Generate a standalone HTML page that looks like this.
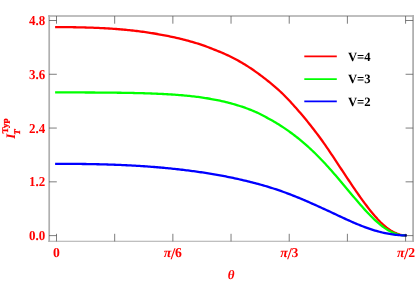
<!DOCTYPE html>
<html><head><meta charset="utf-8"><title>chart</title>
<style>
html,body{margin:0;padding:0;background:#fff;}
svg{display:block;}
text{font-family:"Liberation Serif",serif;font-weight:bold;text-rendering:geometricPrecision;}
svg{will-change:transform;opacity:0.999;}
</style></head><body>
<svg width="417" height="281" viewBox="0 0 417 281">
<rect x="0" y="0" width="417" height="281" fill="#fff"/>
<path d="M55.10,27.10 L56.30,27.10 L57.76,27.10 L59.22,27.11 L60.69,27.11 L62.15,27.12 L63.61,27.13 L65.07,27.14 L66.53,27.15 L68.00,27.16 L69.46,27.18 L70.92,27.19 L72.38,27.21 L73.84,27.24 L75.31,27.26 L76.77,27.29 L78.23,27.31 L79.69,27.34 L81.15,27.38 L82.61,27.41 L84.08,27.45 L85.54,27.49 L87.00,27.53 L88.46,27.57 L89.92,27.62 L91.39,27.67 L92.85,27.72 L94.31,27.78 L95.77,27.84 L97.23,27.90 L98.70,27.96 L100.16,28.03 L101.62,28.10 L103.08,28.18 L104.54,28.25 L106.01,28.34 L107.47,28.42 L108.93,28.51 L110.39,28.60 L111.85,28.70 L113.32,28.80 L114.78,28.90 L116.24,29.01 L117.70,29.12 L119.16,29.23 L120.62,29.35 L122.09,29.48 L123.55,29.61 L125.01,29.74 L126.47,29.88 L127.93,30.02 L129.40,30.17 L130.86,30.33 L132.32,30.49 L133.78,30.65 L135.24,30.82 L136.71,30.99 L138.17,31.17 L139.63,31.36 L141.09,31.55 L142.55,31.74 L144.02,31.94 L145.48,32.15 L146.94,32.36 L148.40,32.58 L149.86,32.80 L151.33,33.03 L152.79,33.26 L154.25,33.50 L155.71,33.75 L157.17,34.00 L158.63,34.26 L160.10,34.52 L161.56,34.79 L163.02,35.06 L164.48,35.34 L165.94,35.63 L167.41,35.92 L168.87,36.22 L170.33,36.52 L171.79,36.83 L173.25,37.15 L174.72,37.48 L176.18,37.81 L177.64,38.15 L179.10,38.49 L180.56,38.84 L182.03,39.20 L183.49,39.57 L184.95,39.95 L186.41,40.33 L187.87,40.72 L189.34,41.12 L190.80,41.53 L192.26,41.94 L193.72,42.37 L195.18,42.80 L196.64,43.25 L198.11,43.70 L199.57,44.16 L201.03,44.63 L202.49,45.13 L203.95,45.64 L205.42,46.17 L206.88,46.72 L208.34,47.28 L209.80,47.84 L211.26,48.41 L212.73,48.99 L214.19,49.57 L215.65,50.14 L217.11,50.73 L218.57,51.32 L220.04,51.92 L221.50,52.54 L222.96,53.17 L224.42,53.81 L225.88,54.46 L227.35,55.13 L228.81,55.82 L230.27,56.52 L231.73,57.24 L233.19,57.98 L234.65,58.74 L236.12,59.51 L237.58,60.31 L239.04,61.12 L240.50,61.95 L241.96,62.79 L243.43,63.66 L244.89,64.55 L246.35,65.46 L247.81,66.39 L249.27,67.34 L250.74,68.31 L252.20,69.30 L253.66,70.30 L255.12,71.32 L256.58,72.35 L258.05,73.40 L259.51,74.46 L260.97,75.55 L262.43,76.66 L263.89,77.79 L265.36,78.93 L266.82,80.10 L268.28,81.26 L269.74,82.43 L271.20,83.61 L272.66,84.82 L274.13,86.07 L275.59,87.33 L277.05,88.61 L278.51,89.92 L279.97,91.25 L281.44,92.62 L282.90,94.03 L284.36,95.48 L285.82,96.97 L287.28,98.48 L288.75,100.02 L290.21,101.59 L291.67,103.18 L293.13,104.80 L294.59,106.43 L296.06,108.08 L297.52,109.75 L298.98,111.43 L300.44,113.12 L301.90,114.83 L303.37,116.56 L304.83,118.31 L306.29,120.09 L307.75,121.89 L309.21,123.71 L310.67,125.56 L312.14,127.43 L313.60,129.31 L315.06,131.20 L316.52,133.11 L317.98,135.04 L319.45,136.99 L320.91,138.98 L322.37,141.00 L323.83,143.06 L325.29,145.16 L326.76,147.29 L328.22,149.44 L329.68,151.60 L331.14,153.79 L332.60,155.98 L334.07,158.19 L335.53,160.40 L336.99,162.61 L338.45,164.83 L339.91,167.04 L341.38,169.25 L342.84,171.46 L344.30,173.67 L345.76,175.87 L347.22,178.07 L348.68,180.26 L350.15,182.44 L351.61,184.61 L353.07,186.77 L354.53,188.91 L355.99,191.04 L357.46,193.15 L358.92,195.24 L360.38,197.30 L361.84,199.34 L363.30,201.35 L364.77,203.33 L366.23,205.28 L367.69,207.19 L369.15,209.08 L370.61,210.93 L372.08,212.73 L373.54,214.49 L375.00,216.20 L376.46,217.86 L377.92,219.46 L379.39,221.00 L380.85,222.47 L382.31,223.87 L383.77,225.20 L385.23,226.45 L386.69,227.62 L388.16,228.70 L389.62,229.70 L391.08,230.62 L392.54,231.47 L394.00,232.23 L395.47,232.92 L396.93,233.54 L398.39,234.08 L399.85,234.53 L401.31,234.90 L402.78,235.17 L404.24,235.34 L405.70,235.40 L406.50,235.40" fill="none" stroke="#ff0000" stroke-width="2.3" stroke-linecap="butt" stroke-linejoin="round"/>
<path d="M55.10,92.42 L56.30,92.42 L57.76,92.42 L59.22,92.42 L60.69,92.42 L62.15,92.42 L63.61,92.42 L65.07,92.42 L66.53,92.43 L68.00,92.43 L69.46,92.43 L70.92,92.43 L72.38,92.44 L73.84,92.44 L75.31,92.44 L76.77,92.45 L78.23,92.45 L79.69,92.45 L81.15,92.46 L82.61,92.46 L84.08,92.47 L85.54,92.48 L87.00,92.48 L88.46,92.49 L89.92,92.49 L91.39,92.50 L92.85,92.51 L94.31,92.52 L95.77,92.53 L97.23,92.54 L98.70,92.55 L100.16,92.56 L101.62,92.57 L103.08,92.58 L104.54,92.59 L106.01,92.60 L107.47,92.62 L108.93,92.63 L110.39,92.64 L111.85,92.66 L113.32,92.67 L114.78,92.69 L116.24,92.71 L117.70,92.73 L119.16,92.75 L120.62,92.77 L122.09,92.79 L123.55,92.81 L125.01,92.83 L126.47,92.86 L127.93,92.89 L129.40,92.91 L130.86,92.94 L132.32,92.97 L133.78,93.00 L135.24,93.03 L136.71,93.07 L138.17,93.10 L139.63,93.14 L141.09,93.18 L142.55,93.22 L144.02,93.26 L145.48,93.30 L146.94,93.35 L148.40,93.40 L149.86,93.45 L151.33,93.50 L152.79,93.55 L154.25,93.61 L155.71,93.67 L157.17,93.73 L158.63,93.79 L160.10,93.86 L161.56,93.93 L163.02,94.00 L164.48,94.08 L165.94,94.16 L167.41,94.24 L168.87,94.33 L170.33,94.42 L171.79,94.51 L173.25,94.61 L174.72,94.71 L176.18,94.81 L177.64,94.92 L179.10,95.03 L180.56,95.15 L182.03,95.27 L183.49,95.40 L184.95,95.53 L186.41,95.67 L187.87,95.81 L189.34,95.96 L190.80,96.11 L192.26,96.27 L193.72,96.44 L195.18,96.61 L196.64,96.79 L198.11,96.98 L199.57,97.18 L201.03,97.38 L202.49,97.59 L203.95,97.80 L205.42,98.03 L206.88,98.26 L208.34,98.50 L209.80,98.75 L211.26,99.01 L212.73,99.27 L214.19,99.55 L215.65,99.83 L217.11,100.12 L218.57,100.42 L220.04,100.74 L221.50,101.06 L222.96,101.39 L224.42,101.73 L225.88,102.08 L227.35,102.44 L228.81,102.81 L230.27,103.19 L231.73,103.59 L233.19,104.00 L234.65,104.42 L236.12,104.85 L237.58,105.29 L239.04,105.75 L240.50,106.22 L241.96,106.70 L243.43,107.20 L244.89,107.71 L246.35,108.24 L247.81,108.78 L249.27,109.34 L250.74,109.91 L252.20,110.50 L253.66,111.11 L255.12,111.73 L256.58,112.38 L258.05,113.06 L259.51,113.77 L260.97,114.50 L262.43,115.26 L263.89,116.04 L265.36,116.82 L266.82,117.62 L268.28,118.42 L269.74,119.23 L271.20,120.04 L272.66,120.86 L274.13,121.71 L275.59,122.57 L277.05,123.45 L278.51,124.34 L279.97,125.26 L281.44,126.20 L282.90,127.16 L284.36,128.13 L285.82,129.12 L287.28,130.13 L288.75,131.15 L290.21,132.20 L291.67,133.27 L293.13,134.36 L294.59,135.47 L296.06,136.60 L297.52,137.75 L298.98,138.93 L300.44,140.13 L301.90,141.35 L303.37,142.59 L304.83,143.85 L306.29,145.13 L307.75,146.44 L309.21,147.76 L310.67,149.11 L312.14,150.48 L313.60,151.88 L315.06,153.30 L316.52,154.74 L317.98,156.21 L319.45,157.69 L320.91,159.20 L322.37,160.72 L323.83,162.27 L325.29,163.83 L326.76,165.42 L328.22,167.03 L329.68,168.66 L331.14,170.31 L332.60,171.97 L334.07,173.65 L335.53,175.34 L336.99,177.04 L338.45,178.75 L339.91,180.47 L341.38,182.20 L342.84,183.94 L344.30,185.68 L345.76,187.42 L347.22,189.17 L348.68,190.92 L350.15,192.67 L351.61,194.41 L353.07,196.15 L354.53,197.88 L355.99,199.60 L357.46,201.31 L358.92,203.01 L360.38,204.69 L361.84,206.36 L363.30,208.00 L364.77,209.62 L366.23,211.21 L367.69,212.78 L369.15,214.31 L370.61,215.81 L372.08,217.28 L373.54,218.70 L375.00,220.08 L376.46,221.42 L377.92,222.71 L379.39,223.95 L380.85,225.14 L382.31,226.27 L383.77,227.35 L385.23,228.37 L386.69,229.32 L388.16,230.21 L389.62,231.04 L391.08,231.79 L392.54,232.48 L394.00,233.10 L395.47,233.64 L396.93,234.11 L398.39,234.51 L399.85,234.84 L401.31,235.09 L402.78,235.26 L404.24,235.37 L405.70,235.40 L406.50,235.40" fill="none" stroke="#00ff00" stroke-width="2.3" stroke-linecap="butt" stroke-linejoin="round"/>
<path d="M55.10,163.82 L56.30,163.82 L57.76,163.82 L59.22,163.82 L60.69,163.83 L62.15,163.83 L63.61,163.83 L65.07,163.84 L66.53,163.85 L68.00,163.85 L69.46,163.86 L70.92,163.87 L72.38,163.88 L73.84,163.89 L75.31,163.90 L76.77,163.91 L78.23,163.93 L79.69,163.94 L81.15,163.96 L82.61,163.98 L84.08,164.00 L85.54,164.02 L87.00,164.04 L88.46,164.06 L89.92,164.09 L91.39,164.11 L92.85,164.14 L94.31,164.17 L95.77,164.20 L97.23,164.23 L98.70,164.27 L100.16,164.30 L101.62,164.34 L103.08,164.38 L104.54,164.42 L106.01,164.46 L107.47,164.50 L108.93,164.55 L110.39,164.59 L111.85,164.64 L113.32,164.69 L114.78,164.74 L116.24,164.80 L117.70,164.85 L119.16,164.91 L120.62,164.97 L122.09,165.04 L123.55,165.10 L125.01,165.17 L126.47,165.24 L127.93,165.31 L129.40,165.38 L130.86,165.46 L132.32,165.53 L133.78,165.62 L135.24,165.70 L136.71,165.78 L138.17,165.87 L139.63,165.96 L141.09,166.06 L142.55,166.15 L144.02,166.25 L145.48,166.35 L146.94,166.45 L148.40,166.56 L149.86,166.67 L151.33,166.78 L152.79,166.90 L154.25,167.01 L155.71,167.13 L157.17,167.26 L158.63,167.38 L160.10,167.51 L161.56,167.64 L163.02,167.77 L164.48,167.91 L165.94,168.05 L167.41,168.19 L168.87,168.33 L170.33,168.48 L171.79,168.63 L173.25,168.78 L174.72,168.94 L176.18,169.10 L177.64,169.26 L179.10,169.42 L180.56,169.59 L182.03,169.76 L183.49,169.93 L184.95,170.11 L186.41,170.29 L187.87,170.47 L189.34,170.66 L190.80,170.84 L192.26,171.03 L193.72,171.23 L195.18,171.43 L196.64,171.63 L198.11,171.83 L199.57,172.04 L201.03,172.25 L202.49,172.46 L203.95,172.68 L205.42,172.90 L206.88,173.13 L208.34,173.36 L209.80,173.60 L211.26,173.84 L212.73,174.09 L214.19,174.34 L215.65,174.59 L217.11,174.85 L218.57,175.11 L220.04,175.38 L221.50,175.65 L222.96,175.92 L224.42,176.20 L225.88,176.49 L227.35,176.78 L228.81,177.07 L230.27,177.37 L231.73,177.67 L233.19,177.98 L234.65,178.29 L236.12,178.61 L237.58,178.93 L239.04,179.25 L240.50,179.58 L241.96,179.92 L243.43,180.26 L244.89,180.61 L246.35,180.96 L247.81,181.31 L249.27,181.68 L250.74,182.04 L252.20,182.41 L253.66,182.79 L255.12,183.17 L256.58,183.56 L258.05,183.96 L259.51,184.36 L260.97,184.76 L262.43,185.17 L263.89,185.59 L265.36,186.02 L266.82,186.45 L268.28,186.89 L269.74,187.34 L271.20,187.80 L272.66,188.26 L274.13,188.73 L275.59,189.21 L277.05,189.70 L278.51,190.19 L279.97,190.69 L281.44,191.20 L282.90,191.72 L284.36,192.25 L285.82,192.78 L287.28,193.32 L288.75,193.87 L290.21,194.43 L291.67,194.99 L293.13,195.56 L294.59,196.14 L296.06,196.73 L297.52,197.32 L298.98,197.92 L300.44,198.53 L301.90,199.15 L303.37,199.77 L304.83,200.39 L306.29,201.03 L307.75,201.66 L309.21,202.31 L310.67,202.95 L312.14,203.60 L313.60,204.26 L315.06,204.91 L316.52,205.57 L317.98,206.22 L319.45,206.88 L320.91,207.54 L322.37,208.20 L323.83,208.87 L325.29,209.54 L326.76,210.21 L328.22,210.88 L329.68,211.56 L331.14,212.24 L332.60,212.93 L334.07,213.62 L335.53,214.31 L336.99,215.00 L338.45,215.69 L339.91,216.38 L341.38,217.07 L342.84,217.75 L344.30,218.42 L345.76,219.09 L347.22,219.76 L348.68,220.42 L350.15,221.07 L351.61,221.71 L353.07,222.35 L354.53,222.98 L355.99,223.59 L357.46,224.20 L358.92,224.80 L360.38,225.39 L361.84,225.96 L363.30,226.53 L364.77,227.08 L366.23,227.61 L367.69,228.14 L369.15,228.65 L370.61,229.14 L372.08,229.62 L373.54,230.08 L375.00,230.53 L376.46,230.96 L377.92,231.37 L379.39,231.76 L380.85,232.14 L382.31,232.50 L383.77,232.83 L385.23,233.15 L386.69,233.45 L388.16,233.73 L389.62,233.99 L391.08,234.23 L392.54,234.45 L394.00,234.64 L395.47,234.81 L396.93,234.97 L398.39,235.10 L399.85,235.20 L401.31,235.29 L402.78,235.35 L404.24,235.39 L405.70,235.40 L406.50,235.40" fill="none" stroke="#0000ff" stroke-width="2.3" stroke-linecap="butt" stroke-linejoin="round"/>
<g fill="#b0b0b0">
<rect x="48.35" y="15.2" width="1.7" height="226.6"/>
<rect x="412.2" y="15.2" width="1.8" height="226.6"/>
<rect x="48.2" y="15.2" width="365.8" height="1.6"/>
<rect x="48.2" y="240.75" width="365.8" height="1.05"/>
</g>
<g stroke="#5c5c5c" stroke-width="0.8" fill="none">
<line x1="56.50" y1="241.4" x2="56.50" y2="233.8"/>
<line x1="56.50" y1="16" x2="56.50" y2="23.7"/>
<line x1="114.68" y1="241.4" x2="114.68" y2="233.8"/>
<line x1="114.68" y1="16" x2="114.68" y2="23.7"/>
<line x1="172.86" y1="241.4" x2="172.86" y2="233.8"/>
<line x1="172.86" y1="16" x2="172.86" y2="23.7"/>
<line x1="231.04" y1="241.4" x2="231.04" y2="233.8"/>
<line x1="231.04" y1="16" x2="231.04" y2="23.7"/>
<line x1="289.22" y1="241.4" x2="289.22" y2="233.8"/>
<line x1="289.22" y1="16" x2="289.22" y2="23.7"/>
<line x1="347.40" y1="241.4" x2="347.40" y2="233.8"/>
<line x1="347.40" y1="16" x2="347.40" y2="23.7"/>
<line x1="405.58" y1="241.4" x2="405.58" y2="233.8"/>
<line x1="405.58" y1="16" x2="405.58" y2="23.7"/>
<line x1="49" y1="20.50" x2="56.8" y2="20.50"/>
<line x1="413.1" y1="20.50" x2="405.6" y2="20.50"/>
<line x1="49" y1="74.28" x2="56.8" y2="74.28"/>
<line x1="413.1" y1="74.28" x2="405.6" y2="74.28"/>
<line x1="49" y1="128.06" x2="56.8" y2="128.06"/>
<line x1="413.1" y1="128.06" x2="405.6" y2="128.06"/>
<line x1="49" y1="181.84" x2="56.8" y2="181.84"/>
<line x1="413.1" y1="181.84" x2="405.6" y2="181.84"/>
<line x1="49" y1="235.62" x2="56.8" y2="235.62"/>
<line x1="413.1" y1="235.62" x2="405.6" y2="235.62"/>
</g>
<circle cx="405.7" cy="235.5" r="1.15" fill="#00007a"/>
<text x="45.2" y="25.10" font-size="13.7" fill="#ff0000" text-anchor="end" textLength="16.2" lengthAdjust="spacingAndGlyphs">4.8</text>
<text x="45.2" y="78.88" font-size="13.7" fill="#ff0000" text-anchor="end" textLength="16.2" lengthAdjust="spacingAndGlyphs">3.6</text>
<text x="45.2" y="132.66" font-size="13.7" fill="#ff0000" text-anchor="end" textLength="16.2" lengthAdjust="spacingAndGlyphs">2.4</text>
<text x="45.2" y="186.44" font-size="13.7" fill="#ff0000" text-anchor="end" textLength="16.2" lengthAdjust="spacingAndGlyphs">1.2</text>
<text x="45.2" y="240.22" font-size="13.7" fill="#ff0000" text-anchor="end" textLength="16.2" lengthAdjust="spacingAndGlyphs">0.0</text>
<text x="56.50" y="256.8" font-size="13.7" fill="#ff0000" text-anchor="middle">0</text>
<text x="172.86" y="256.8" font-size="13.7" fill="#ff0000" text-anchor="middle"><tspan font-style="italic">π</tspan><tspan font-size="16.5" dy="1.7" dx="-0.5">/</tspan><tspan dy="-1.7" dx="-0.4">6</tspan></text>
<text x="289.22" y="256.8" font-size="13.7" fill="#ff0000" text-anchor="middle"><tspan font-style="italic">π</tspan><tspan font-size="16.5" dy="1.7" dx="-0.5">/</tspan><tspan dy="-1.7" dx="-0.4">3</tspan></text>
<text x="406.08" y="256.8" font-size="13.7" fill="#ff0000" text-anchor="middle"><tspan font-style="italic">π</tspan><tspan font-size="16.5" dy="1.7" dx="-0.5">/</tspan><tspan dy="-1.7" dx="-0.4">2</tspan></text>
<text x="231.2" y="278.5" font-size="13" fill="#ff0000" text-anchor="middle" font-style="italic">θ</text>
<g fill="#ff0000"><text transform="translate(15.2,138.8) rotate(-90)" font-size="13" font-style="italic">I</text><text transform="translate(19.5,134.7) rotate(-90)" font-size="9" font-style="italic" stroke="#ff0000" stroke-width="0.3">T</text><text transform="translate(7.8,133.6) rotate(-90)" font-size="8.6" textLength="15.4" lengthAdjust="spacingAndGlyphs" stroke="#ff0000" stroke-width="0.3">Typ</text></g>
<line x1="304.3" y1="56.45" x2="336.8" y2="56.45" stroke="#ff0000" stroke-width="1.8"/>
<text x="347.9" y="60.60" font-size="12.7" fill="#000">V=4</text>
<line x1="304.3" y1="79.05" x2="336.8" y2="79.05" stroke="#00ff00" stroke-width="1.8"/>
<text x="347.9" y="83.20" font-size="12.7" fill="#000">V=3</text>
<line x1="304.3" y1="101.4" x2="336.8" y2="101.4" stroke="#0000ff" stroke-width="1.8"/>
<text x="347.9" y="105.55" font-size="12.7" fill="#000">V=2</text>
</svg></body></html>
